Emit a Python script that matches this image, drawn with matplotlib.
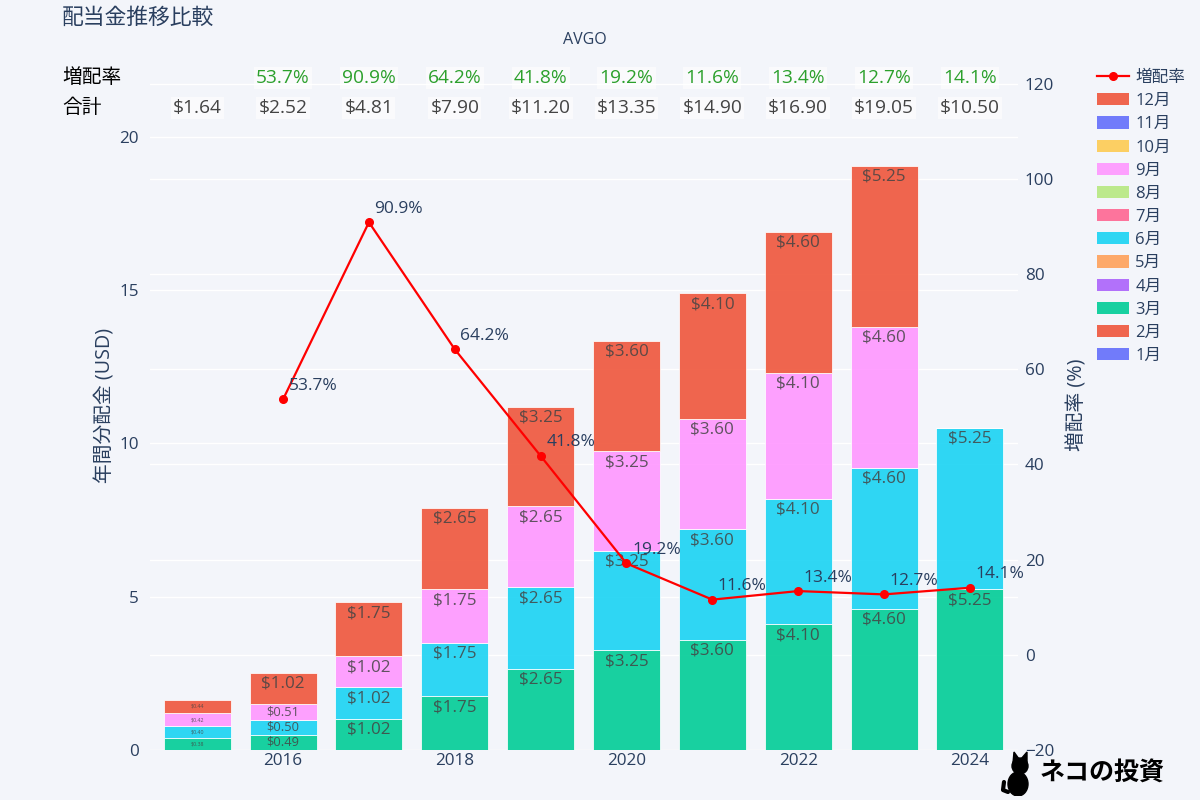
import matplotlib
matplotlib.use("Agg")
import matplotlib.pyplot as plt
from matplotlib.patches import Patch, Ellipse, Polygon, Circle
from matplotlib.lines import Line2D
import matplotlib.transforms as mtransforms
import numpy as np

plt.rcParams['font.family'] = ['Open Sans', 'Noto Sans CJK JP', 'DejaVu Sans']

years = [2015, 2016, 2017, 2018, 2019, 2020, 2021, 2022, 2023, 2024]
months = ["1月", "2月", "3月", "4月", "5月", "6月", "7月", "8月", "9月", "10月", "11月", "12月"]
mar = [0.38, 0.49, 1.02, 1.75, 2.65, 3.25, 3.60, 4.10, 4.60, 5.25]
jun = [0.40, 0.50, 1.02, 1.75, 2.65, 3.25, 3.60, 4.10, 4.60, 5.25]
sep = [0.42, 0.51, 1.02, 1.75, 2.65, 3.25, 3.60, 4.10, 4.60, 0.0]
dec = [0.44, 1.02, 1.75, 2.65, 3.25, 3.60, 4.10, 4.60, 5.25, 0.0]
totals = [1.64, 2.52, 4.81, 7.90, 11.20, 13.35, 14.90, 16.90, 19.05, 10.50]
growth_years = [2016, 2017, 2018, 2019, 2020, 2021, 2022, 2023, 2024]
growth = [53.7, 90.9, 64.2, 41.8, 19.2, 11.6, 13.4, 12.7, 14.1]

palette = ['#636EFA', '#EF553B', '#00CC96', '#AB63FA', '#FFA15A', '#19D3F3',
           '#FF6692', '#B6E880', '#FF97FF', '#FECB52', '#636EFA', '#EF553B']
month_data = {"3月": mar, "6月": jun, "9月": sep, "12月": dec}

BG = '#F3F5FA'
TXT = '#2a3f5f'
W, H = 1200, 800
fig = plt.figure(figsize=(12, 8), dpi=100, facecolor=BG)
L, R, T, B = 150, 1018, 60, 750
ax = fig.add_axes([L / W, 1 - B / H, (R - L) / W, (B - T) / H])
ax.set_facecolor(BG)
ax2 = ax.twinx()

ax.set_xlim(2014.45, 2024.56)
ax.set_ylim(0, 22.5)
ax2.set_ylim(-20, 125)

# grids (left axis and right axis lines)
for v in [0, 5, 10, 15, 20]:
    ax.axhline(v, color='white', lw=1.0, zorder=0)
for v in range(-20, 121, 20):
    ax.axhline((v + 20) * 22.5 / 145, color='white', lw=1.0, zorder=0)

px_per_unit = (B - T) / 22.5
bw = 0.78
bottom = np.zeros(len(years))
for i, m in enumerate(months):
    if m in month_data:
        vals = np.array(month_data[m])
        ax.bar(years, vals, bw, bottom=bottom, color=palette[i], alpha=0.9,
               edgecolor='white', linewidth=0.6, zorder=2)
        for x, v, b0 in zip(years, vals, bottom):
            if v <= 0:
                continue
            hpx = v * px_per_unit
            if hpx >= 25:
                fs, va, y = 12.3, 'top', b0 + v - 3 / px_per_unit
            elif hpx >= 14:
                fs, va, y = 9.3, 'center', b0 + v / 2
            else:
                fs, va, y = 3.8, 'center', b0 + v / 2
            ax.text(x, y, f"${v:.2f}", ha='center', va=va, fontsize=fs,
                    color='#444444', alpha=0.85, zorder=3)
        bottom = bottom + vals

for s in ax.spines.values():
    s.set_visible(False)
for s in ax2.spines.values():
    s.set_visible(False)

ax.set_xticks([2016, 2018, 2020, 2022, 2024])
ax.tick_params(axis='x', length=0, colors=TXT, labelsize=12.3, pad=2)
ax.set_yticks([0, 5, 10, 15, 20])
ax.tick_params(axis='y', length=0, colors=TXT, labelsize=12.3, pad=8)
ax2.set_yticks(range(-20, 121, 20))
ax2.tick_params(axis='y', length=0, colors=TXT, labelsize=12.3, pad=5)
ax.set_ylabel("年間分配金 (USD)", color=TXT, fontsize=14.2, labelpad=3)
ax2.set_ylabel("増配率 (%)", color=TXT, fontsize=14.2, rotation=90, labelpad=9)

ax2.plot(growth_years, growth, color='red', lw=1.6, marker='o', markersize=5.5, zorder=5)
for x, g in zip(growth_years, growth):
    ax2.annotate(f"{g:.1f}%", (x, g), xytext=(4, 4), textcoords='offset points',
                 ha='left', va='bottom', fontsize=12.5, color=TXT, zorder=6)

# header rows
trans = mtransforms.blended_transform_factory(ax.transData, fig.transFigure)
fig.text(62 / W, 1 - 78 / H, "増配率", fontsize=14.2, color='black', va='center', ha='left')
fig.text(62 / W, 1 - 108 / H, "合計", fontsize=14.2, color='black', va='center', ha='left')
for x, g in zip(growth_years, growth):
    ax.text(x, 1 - 78 / H, f"{g:.1f}%", transform=trans, ha='center', va='center',
            fontsize=13.8, color='#2ca02c', clip_on=False,
            bbox=dict(facecolor='white', edgecolor='none', alpha=0.6, pad=1.5))
for x, t in zip(years, totals):
    ax.text(x, 1 - 108 / H, f"${t:.2f}", transform=trans, ha='center', va='center',
            fontsize=13.8, color='#444444', clip_on=False,
            bbox=dict(facecolor='white', edgecolor='none', alpha=0.6, pad=1.5))

fig.text(62 / W, 1 - 18 / H, "配当金推移比較", fontsize=15.7, color=TXT, va='center', ha='left')
fig.text(585 / W, 1 - 40 / H, "AVGO", fontsize=11.5, color=TXT, va='center', ha='center')

# legend
handles = [Line2D([0], [0], color='red', lw=1.6, marker='o', markersize=5.5)]
labels = ["増配率"]
for i in range(11, -1, -1):
    handles.append(Patch(facecolor=palette[i], alpha=0.9, edgecolor='none'))
    labels.append(months[i])
leg = fig.legend(handles, labels, loc='upper left', bbox_to_anchor=(1082 / W, 1 - 55 / H),
                 frameon=False, fontsize=12, labelcolor=TXT, handlelength=1.9,
                 handleheight=0.75, labelspacing=0.43, handletextpad=0.4)

# logo: simple cat silhouette + text
cat_ax = fig.add_axes([1000 / W, 1 - 796 / H, 36 / W, 46 / H])
cat_ax.set_xlim(0, 36)
cat_ax.set_ylim(0, 46)
cat_ax.axis('off')
cat_ax.add_patch(Ellipse((18, 12), 20, 24, color='black'))
cat_ax.add_patch(Circle((20, 30), 8, color='black'))
cat_ax.add_patch(Polygon([[13, 33], [14, 44], [19, 37]], color='black'))
cat_ax.add_patch(Polygon([[21, 37], [27, 44], [27, 32]], color='black'))
cat_ax.plot([8, 3, 4], [4, 6, 14], color='black', lw=3, solid_capstyle='round')
fig.text(1040 / W, 1 - 774 / H, "ネコの投資", fontsize=18, color='black',
         fontweight='bold', va='center', ha='left', family=['Noto Sans CJK JP', 'DejaVu Sans'])

fig.savefig("out.png", dpi=100, facecolor=BG)
